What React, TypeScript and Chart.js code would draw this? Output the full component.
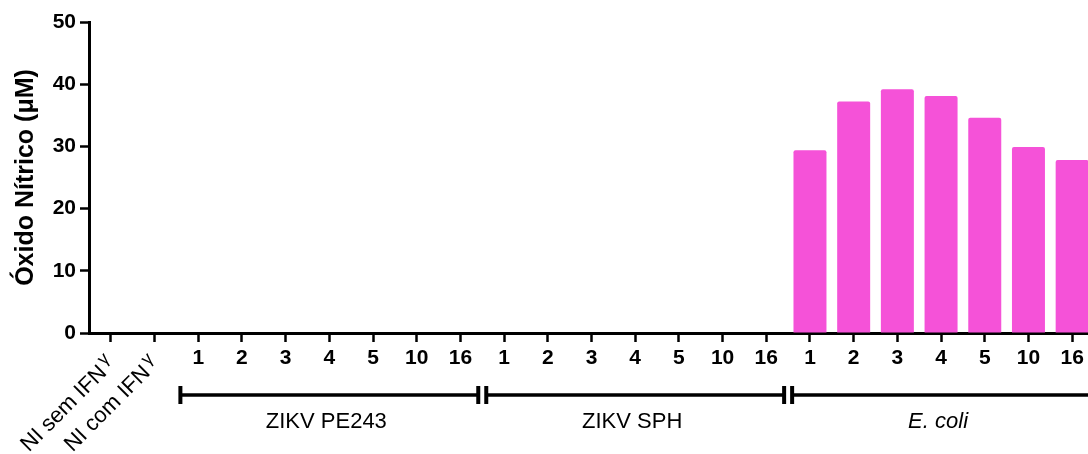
import React, { useEffect, useRef } from "react";
import { Chart, registerables } from "chart.js";

Chart.register(...registerables);

// Categories along the x axis
const categories = [
  "NI sem IFN", "NI com IFN",
  "1", "2", "3", "4", "5", "10", "16",
  "1", "2", "3", "4", "5", "10", "16",
  "1", "2", "3", "4", "5", "10", "16",
];

// Nitric oxide (µM) per condition
const noValues = [
  0, 0,
  0, 0, 0, 0, 0, 0, 0,
  0, 0, 0, 0, 0, 0, 0,
  29.4, 37.2, 39.2, 38.1, 34.6, 29.9, 27.8,
];

// Indexes whose labels are drawn rotated with an IFN-γ suffix
const rotatedLabelIdx = [0, 1];

// Bracketed groups under the axis
const groupLabels = ["ZIKV PE243", "ZIKV SPH", "E. coli"];
const groupStart = [2, 9, 16];
const groupEnd = [8, 15, 22];
const groupItalic = [false, false, true];

const yTicks = [0, 10, 20, 30, 40, 50];

const FONT = "'Liberation Sans', Arial, sans-serif";
const BAR_COLOR = "rgb(245, 82, 216)";

const groupsPlugin = {
  id: "groupBrackets",
  afterDraw(chart: any) {
    const ctx = chart.ctx as CanvasRenderingContext2D;
    const x = chart.scales.x;
    const half = (x.getPixelForValue(1) - x.getPixelForValue(0)) / 2;
    ctx.save();
    ctx.fillStyle = "#000";
    ctx.strokeStyle = "#000";

    // rotated control labels
    rotatedLabelIdx.forEach((i) => {
      const px = x.getPixelForValue(i);
      ctx.save();
      ctx.translate(px + 1, 361);
      ctx.rotate(-Math.PI / 4);
      ctx.font = `18px ${FONT}`;
      ctx.textAlign = "right";
      ctx.textBaseline = "middle";
      const gw = ctx.measureText("γ").width;
      ctx.fillText("γ", 0, -7);
      ctx.font = `22px ${FONT}`;
      ctx.fillText(categories[i], -gw - 3, 0);
      ctx.restore();
    });

    // group brackets
    const yLine = 395;
    groupLabels.forEach((label, g) => {
      const left = x.getPixelForValue(groupStart[g]) - half + 4;
      const right = x.getPixelForValue(groupEnd[g]) + half - 4;
      ctx.lineWidth = 3.5;
      ctx.beginPath();
      ctx.moveTo(left, yLine);
      ctx.lineTo(right, yLine);
      ctx.stroke();
      ctx.fillRect(left - 2, yLine - 9, 4, 18);
      ctx.fillRect(right - 2, yLine - 9, 4, 18);

      ctx.font = `${groupItalic[g] ? "italic " : ""}22px ${FONT}`;
      ctx.textAlign = "center";
      ctx.textBaseline = "alphabetic";
      ctx.fillText(label, (left + right) / 2 - 3, 428);
    });
    ctx.restore();
  },
};

export default function App() {
  const canvasRef = useRef<HTMLCanvasElement | null>(null);

  useEffect(() => {
    const canvas = canvasRef.current;
    if (!canvas) return;
    const chart = new Chart(canvas, {
      type: "bar",
      data: {
        labels: categories,
        datasets: [
          {
            data: noValues,
            backgroundColor: BAR_COLOR,
            borderWidth: 0,
            borderRadius: 2,
            borderSkipped: "bottom",
            barPercentage: 0.755,
            categoryPercentage: 1,
          },
        ],
      },
      options: {
        responsive: false,
        animation: false,
        devicePixelRatio: 1,
        layout: { padding: { top: 22, right: 6, bottom: 0, left: 0 } },
        plugins: {
          legend: { display: false },
          tooltip: { enabled: false },
        },
        scales: {
          x: {
            offset: true,
            grid: {
              offset: false,
              drawOnChartArea: false,
              drawTicks: true,
              tickLength: 9,
              tickWidth: 2.5,
              tickColor: "#000",
            },
            border: { display: true, color: "#000", width: 3 },
            ticks: {
              autoSkip: false,
              maxRotation: 0,
              minRotation: 0,
              padding: 4,
              color: "#000",
              font: { family: FONT, size: 21, weight: "bold" },
              callback: (_v: any, i: number) =>
                rotatedLabelIdx.includes(i) ? "" : categories[i],
            },
            afterFit: (s: any) => {
              s.height = 121;
            },
          },
          y: {
            min: 0,
            max: 50,
            afterBuildTicks: (s: any) => {
              s.ticks = yTicks.map((v) => ({ value: v }));
            },
            grid: {
              drawOnChartArea: false,
              drawTicks: true,
              tickLength: 9,
              tickWidth: 2.5,
              tickColor: "#000",
            },
            border: { display: true, color: "#000", width: 3 },
            ticks: {
              padding: 4,
              color: "#000",
              font: { family: FONT, size: 21, weight: "bold" },
            },
            title: {
              display: true,
              text: "Óxido Nítrico (μM)",
              color: "#000",
              font: { family: FONT, size: 25, weight: "bold" },
              padding: { top: 11, bottom: 0 },
            },
            afterFit: (s: any) => {
              s.width = 89;
            },
          },
        },
      },
      plugins: [groupsPlugin],
    });
    return () => chart.destroy();
  }, []);

  return (
    <div
      style={{
        position: "absolute",
        left: 0,
        top: 0,
        width: 1088,
        height: 454,
        overflow: "hidden",
        background: "#fff",
      }}
    >
      <canvas ref={canvasRef} width={1100} height={454} style={{ width: 1100, height: 454 }} />
    </div>
  );
}
